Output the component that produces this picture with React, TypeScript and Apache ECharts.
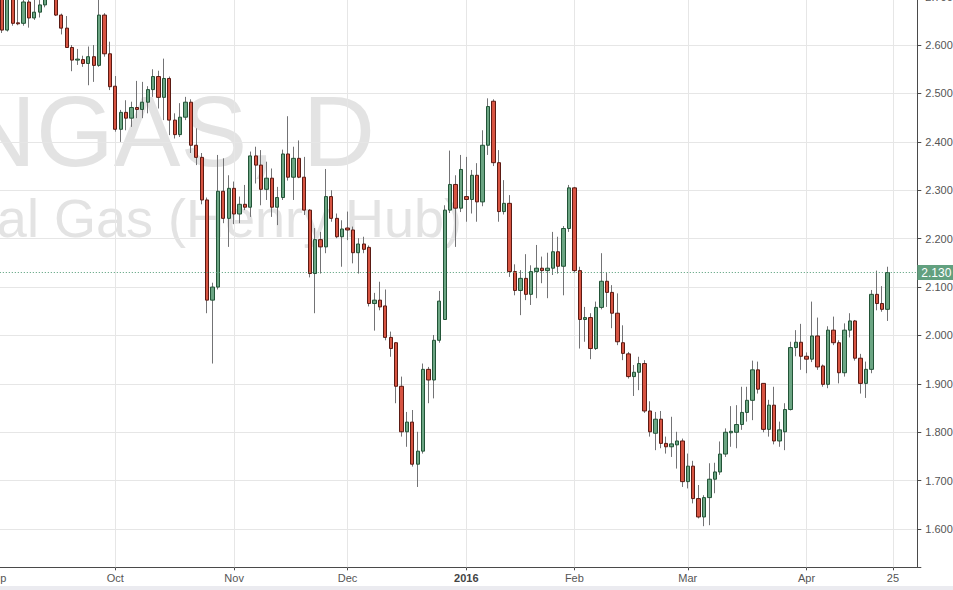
import React, { useEffect, useRef } from "react";
import * as echarts from "echarts";

// ---- calendar (trading sessions) ----
const calendarStart = "2015-09-01";
const calendarEnd = "2016-04-29";
const marketHolidays = ["2015-12-25", "2016-01-01", "2016-03-25"];
const extraLabelDates = ["2016-04-25"];
const monthNames = ["Jan", "Feb", "Mar", "Apr", "May", "Jun", "Jul", "Aug", "Sep", "Oct", "Nov", "Dec"];

// ---- daily OHLC, Sep 1 2015 .. Apr 22 2016 ----
const opens = [
  2.730, 2.740, 2.631, 2.700, 2.646, 2.645, 2.689, 2.656, 2.668, 2.683,
  2.705, 2.710, 2.662, 2.635, 2.595, 2.569, 2.570, 2.562, 2.576, 2.558,
  2.662, 2.582, 2.515, 2.426, 2.461, 2.449, 2.471, 2.467, 2.482, 2.508,
  2.535, 2.492, 2.531, 2.445, 2.415, 2.451, 2.482, 2.393, 2.368, 2.280,
  2.073, 2.100, 2.298, 2.242, 2.304, 2.251, 2.271, 2.265, 2.371, 2.352,
  2.302, 2.325, 2.265, 2.285, 2.375, 2.327, 2.366, 2.327, 2.259, 2.128,
  2.198, 2.183, 2.287, 2.242, 2.204, 2.222, 2.218, 2.171, 2.189, 2.182,
  2.066, 2.073, 2.061, 1.996, 1.985, 1.895, 1.801, 1.821, 1.734, 1.761,
  1.930, 1.908, 1.990, 2.033, 2.259, 2.312, 2.263, 2.287, 2.281, 2.331,
  2.276, 2.393, 2.484, 2.357, 2.256, 2.273, 2.132, 2.093, 2.118, 2.085,
  2.132, 2.139, 2.134, 2.139, 2.173, 2.143, 2.221, 2.305, 2.134, 2.033,
  2.037, 1.973, 2.058, 2.112, 2.089, 2.046, 1.985, 1.962, 1.915, 1.924,
  1.942, 1.844, 1.798, 1.827, 1.777, 1.770, 1.774, 1.782, 1.698, 1.730,
  1.663, 1.625, 1.665, 1.703, 1.718, 1.755, 1.799, 1.800, 1.816, 1.841,
  1.866, 1.929, 1.901, 1.806, 1.856, 1.782, 1.801, 1.847, 1.975, 1.986,
  1.957, 1.951, 1.999, 1.937, 1.899, 2.011, 1.985, 1.923, 2.011, 2.030,
  1.953, 1.901, 1.930, 2.085, 2.066, 2.054,
];
const highs = [
  2.760, 2.760, 2.740, 2.720, 2.700, 2.700, 2.700, 2.700, 2.693, 2.710,
  2.740, 2.730, 2.665, 2.660, 2.600, 2.592, 2.578, 2.597, 2.600, 2.700,
  2.666, 2.607, 2.536, 2.466, 2.486, 2.483, 2.526, 2.524, 2.515, 2.550,
  2.547, 2.572, 2.535, 2.459, 2.480, 2.493, 2.488, 2.428, 2.377, 2.285,
  2.109, 2.373, 2.366, 2.331, 2.318, 2.287, 2.311, 2.380, 2.390, 2.383,
  2.359, 2.345, 2.307, 2.384, 2.453, 2.390, 2.403, 2.369, 2.261, 2.222,
  2.214, 2.344, 2.300, 2.252, 2.238, 2.256, 2.225, 2.201, 2.204, 2.186,
  2.088, 2.111, 2.095, 2.008, 1.986, 1.915, 1.842, 1.846, 1.801, 1.942,
  1.935, 2.001, 2.092, 2.269, 2.382, 2.331, 2.373, 2.369, 2.342, 2.356,
  2.424, 2.490, 2.488, 2.383, 2.321, 2.290, 2.147, 2.135, 2.168, 2.145,
  2.187, 2.163, 2.171, 2.214, 2.204, 2.226, 2.311, 2.307, 2.142, 2.059,
  2.046, 2.070, 2.170, 2.130, 2.104, 2.087, 2.021, 1.966, 1.939, 1.956,
  1.949, 1.864, 1.842, 1.844, 1.791, 1.832, 1.801, 1.787, 1.756, 1.741,
  1.691, 1.670, 1.736, 1.737, 1.781, 1.808, 1.854, 1.856, 1.894, 1.894,
  1.948, 1.946, 1.901, 1.867, 1.894, 1.822, 1.860, 1.987, 2.011, 2.024,
  1.965, 2.070, 2.037, 1.940, 2.019, 2.039, 1.990, 2.025, 2.046, 2.032,
  1.962, 1.946, 2.094, 2.134, 2.102, 2.142,
];
const lows = [
  2.710, 2.625, 2.628, 2.640, 2.641, 2.640, 2.636, 2.652, 2.657, 2.678,
  2.698, 2.660, 2.622, 2.594, 2.546, 2.559, 2.555, 2.517, 2.524, 2.555,
  2.576, 2.507, 2.421, 2.400, 2.424, 2.431, 2.449, 2.449, 2.459, 2.493,
  2.469, 2.445, 2.414, 2.407, 2.410, 2.445, 2.377, 2.352, 2.271, 2.046,
  1.942, 2.095, 2.232, 2.183, 2.230, 2.232, 2.259, 2.245, 2.314, 2.269,
  2.280, 2.245, 2.228, 2.280, 2.320, 2.280, 2.325, 2.249, 2.120, 2.046,
  2.128, 2.170, 2.235, 2.201, 2.142, 2.197, 2.149, 2.128, 2.170, 2.060,
  2.010, 2.052, 1.990, 1.956, 1.860, 1.791, 1.770, 1.729, 1.687, 1.756,
  1.860, 1.870, 1.985, 2.032, 2.253, 2.183, 2.255, 2.235, 2.252, 2.235,
  2.267, 2.373, 2.350, 2.235, 2.250, 2.121, 2.083, 2.042, 2.073, 2.063,
  2.077, 2.108, 2.077, 2.125, 2.128, 2.083, 2.214, 2.130, 1.973, 1.987,
  1.951, 1.970, 2.054, 2.059, 2.015, 1.980, 1.949, 1.911, 1.875, 1.887,
  1.840, 1.791, 1.763, 1.767, 1.756, 1.749, 1.725, 1.687, 1.684, 1.653,
  1.622, 1.606, 1.608, 1.674, 1.712, 1.749, 1.770, 1.767, 1.805, 1.822,
  1.825, 1.880, 1.800, 1.791, 1.775, 1.770, 1.763, 1.845, 1.957, 1.929,
  1.922, 1.945, 1.929, 1.894, 1.891, 1.980, 1.901, 1.915, 1.996, 1.948,
  1.880, 1.871, 1.922, 2.052, 2.049, 2.030,
];
const closes = [
  2.745, 2.631, 2.720, 2.645, 2.644, 2.689, 2.656, 2.668, 2.683, 2.700,
  2.725, 2.662, 2.635, 2.595, 2.569, 2.571, 2.562, 2.576, 2.558, 2.662,
  2.582, 2.514, 2.426, 2.461, 2.449, 2.471, 2.467, 2.482, 2.508, 2.535,
  2.492, 2.531, 2.445, 2.415, 2.451, 2.482, 2.393, 2.368, 2.280, 2.073,
  2.100, 2.298, 2.242, 2.304, 2.251, 2.271, 2.265, 2.371, 2.352, 2.302,
  2.325, 2.265, 2.285, 2.375, 2.327, 2.366, 2.327, 2.259, 2.128, 2.198,
  2.183, 2.287, 2.242, 2.204, 2.220, 2.218, 2.171, 2.189, 2.178, 2.066,
  2.073, 2.059, 1.996, 1.973, 1.895, 1.801, 1.821, 1.734, 1.761, 1.930,
  1.908, 1.990, 2.071, 2.259, 2.312, 2.263, 2.343, 2.281, 2.331, 2.276,
  2.393, 2.473, 2.357, 2.256, 2.273, 2.132, 2.093, 2.118, 2.085, 2.132,
  2.139, 2.134, 2.139, 2.173, 2.143, 2.221, 2.305, 2.134, 2.033, 2.037,
  1.973, 2.058, 2.112, 2.089, 2.046, 1.987, 1.963, 1.915, 1.924, 1.942,
  1.844, 1.801, 1.827, 1.777, 1.770, 1.776, 1.782, 1.698, 1.730, 1.663,
  1.625, 1.665, 1.703, 1.718, 1.755, 1.800, 1.802, 1.816, 1.841, 1.866,
  1.929, 1.889, 1.806, 1.856, 1.782, 1.805, 1.847, 1.975, 1.986, 1.957,
  1.951, 1.999, 1.935, 1.899, 2.011, 1.985, 1.923, 2.011, 2.030, 1.953,
  1.901, 1.930, 2.085, 2.066, 2.054, 2.130,
];

const FONT = "'Liberation Sans', Arial, sans-serif";
const UP = "#6ba583";
const DOWN = "#d75442";
const UP_BORDER = "#225437";
const DOWN_BORDER = "#5b1a13";
const WICK = "#737375";

function buildSessions(): string[] {
  const out: string[] = [];
  const d = new Date(calendarStart + "T00:00:00Z");
  const end = new Date(calendarEnd + "T00:00:00Z");
  while (d <= end) {
    const wd = d.getUTCDay();
    const s = d.toISOString().slice(0, 10);
    if (wd !== 0 && wd !== 6 && !marketHolidays.includes(s)) out.push(s);
    d.setUTCDate(d.getUTCDate() + 1);
  }
  return out;
}

export default function App() {
  const ref = useRef<HTMLDivElement>(null);

  useEffect(() => {
    document.body.style.margin = "0";
    if (!ref.current) return;
    const chart = echarts.init(ref.current, undefined, { renderer: "svg" });
    const sessions = buildSessions();
    const isLabel = (i: number) =>
      i === 0 ||
      sessions[i].slice(0, 7) !== sessions[i - 1].slice(0, 7) ||
      extraLabelDates.includes(sessions[i]);
    const labelFn = (i: number) => isLabel(i);
    const wickData = opens.map((o, i) => [o, closes[i], lows[i], highs[i]]);
    const bodyData = opens.map((o, i) => [o, closes[i], Math.min(o, closes[i]), Math.max(o, closes[i])]);
    const gridDates = sessions.filter((_, i) => isLabel(i));
    const last = closes[closes.length - 1];

    chart.setOption({
      animation: false,
      backgroundColor: "#ffffff",
      textStyle: { fontFamily: FONT },
      grid: {
        left: -6.2,
        right: 35.7,
        top: -10,
        bottom: 22.7,
        containLabel: false,
        outerBoundsMode: "none",
      },
      xAxis: {
        type: "category",
        data: sessions,
        boundaryGap: true,
        axisLine: { show: true, lineStyle: { color: "#4a4a4a", width: 1 } },
        axisTick: { show: true, alignWithLabel: true, interval: labelFn, length: 3, lineStyle: { color: "#4a4a4a" } },
        axisLabel: {
          interval: labelFn,
          margin: 5,
          color: "#555555",
          fontSize: 11,
          fontFamily: FONT,
          formatter: (v: string) => {
            if (extraLabelDates.includes(v)) return String(Number(v.slice(8, 10)));
            const m = Number(v.slice(5, 7));
            if (m === 1) return "{y|" + v.slice(0, 4) + "}";
            return monthNames[m - 1];
          },
          rich: { y: { fontWeight: "bold", fontSize: 11, color: "#444444", fontFamily: FONT } },
        },
        splitLine: { show: false },
      },
      yAxis: {
        type: "value",
        position: "right",
        min: 1.521,
        max: 2.7138,
        splitNumber: 12,
        minInterval: 0.1,
        maxInterval: 0.1,
        axisLine: { show: true, lineStyle: { color: "#4a4a4a", width: 1 } },
        axisTick: { show: true, length: 4, lineStyle: { color: "#4a4a4a" } },
        axisLabel: {
          margin: 8,
          color: "#555555",
          fontSize: 11,
          fontFamily: FONT,
          formatter: (v: number) => (Math.abs(v * 10 - Math.round(v * 10)) > 1e-6 ? "" : v.toFixed(3)),
        },
        splitLine: { show: true, lineStyle: { color: "#e6e6e6", width: 1 } },
      },
      graphic: [
        {
          type: "text",
          x: 375,
          y: 131,
          z: -10,
          silent: true,
          style: { text: "NGAS, D", fill: "#e3e3e3", fontSize: 100, fontFamily: FONT, align: "right", verticalAlign: "middle" },
        },
        {
          type: "text",
          x: 462,
          y: 218,
          z: -10,
          silent: true,
          style: { text: "Natural Gas (Henry Hub)", fill: "#e3e3e3", fontSize: 54, fontFamily: FONT, align: "right", verticalAlign: "middle" },
        },
        {
          type: "rect",
          silent: true,
          shape: { x: 0, y: 586, width: 953, height: 4 },
          style: { fill: "#ebebf0" },
        },
      ],
      series: [
        {
          name: "wicks",
          type: "candlestick",
          data: wickData,
          barWidth: 1,
          z: 2,
          itemStyle: { color: WICK, color0: WICK, borderColor: WICK, borderColor0: WICK, borderWidth: 1 },
          markLine: {
            silent: true,
            z: 1,
            symbol: ["none", "none"],
            label: { show: false },
            lineStyle: { color: "#e6e6e6", type: "solid", width: 1 },
            data: gridDates.map((d) => ({ xAxis: d })),
          },
        },
        {
          name: "NGAS",
          type: "candlestick",
          data: bodyData,
          barWidth: 3.8,
          z: 3,
          itemStyle: { color: UP, color0: DOWN, borderColor: UP_BORDER, borderColor0: DOWN_BORDER, borderWidth: 1 },
          markLine: {
            silent: true,
            symbol: ["none", "none"],
            lineStyle: { color: "#4f9a74", type: [1, 2], width: 1 },
            label: {
              show: true,
              position: "end",
              distance: 0,
              formatter: (p: any) => Number(p.value).toFixed(3),
              backgroundColor: "#62a07f",
              color: "#ffffff",
              fontSize: 12,
              lineHeight: 12,
              padding: [2, 4, 1, 4],
              fontFamily: FONT,
            },
            data: [{ yAxis: last }],
          },
        },
      ],
    });
    return () => chart.dispose();
  }, []);

  return (
    <div
      ref={ref}
      style={{ position: "fixed", left: 0, top: 0, width: 953, height: 590, background: "#ffffff" }}
    />
  );
}
